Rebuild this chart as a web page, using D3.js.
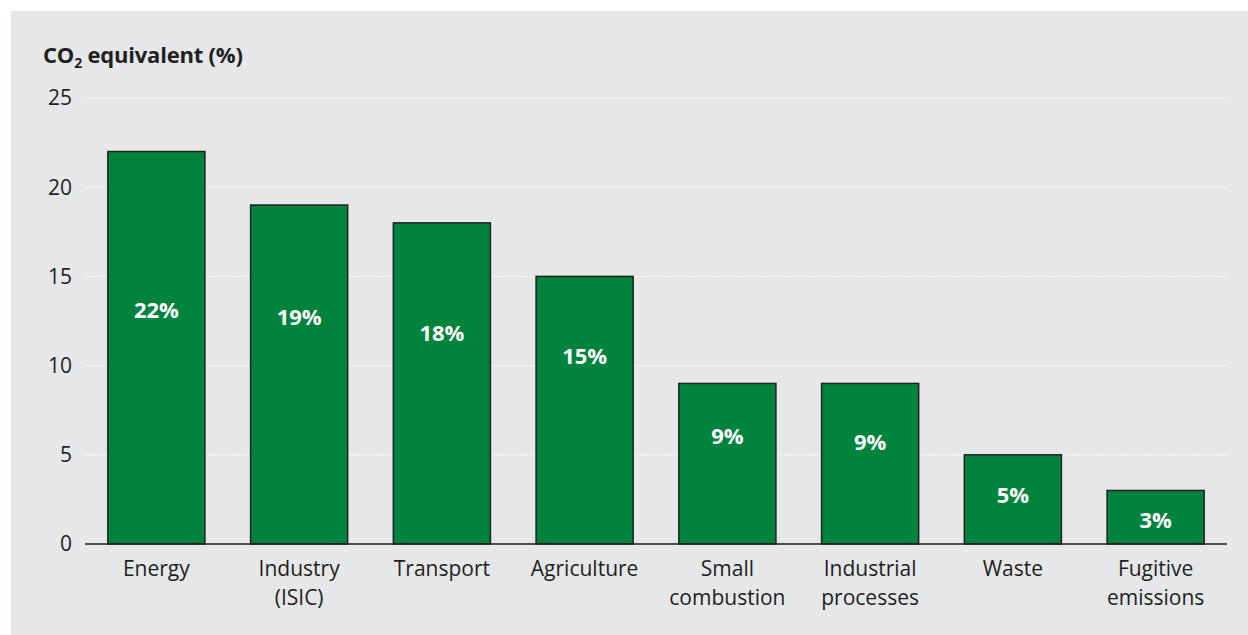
<!DOCTYPE html>
<html>

<head>
    <meta charset="utf-8">
    <title>CO2 equivalent by sector</title>
    <script src="https://d3js.org/d3.v7.min.js"></script>
    <style>
        body {
            margin: 0;
            background: #ffffff;
        }

        text {
            font-family: "Open Sans", "Noto Sans", sans-serif;
            fill: #231f20;
        }
    </style>
</head>

<body>
    <svg width="1248" height="635"></svg>

    <script>
        // data
        const categories = [
            ["Energy"],
            ["Industry", "(ISIC)"],
            ["Transport"],
            ["Agriculture"],
            ["Small", "combustion"],
            ["Industrial", "processes"],
            ["Waste"],
            ["Fugitive", "emissions"]
        ];
        const values = [22, 19, 18, 15, 9, 9, 5, 3];
        const yTicks = [0, 5, 10, 15, 20, 25];

        // where each value label sits, in axis units
        const labelLevel = [13.1, 12.7, 11.8, 10.5, 6.05, 5.7, 2.75, 1.35];

        const svg = d3.select("svg");

        // grey panel
        svg.append("rect")
            .attr("x", 11)
            .attr("y", 11)
            .attr("width", 1248 - 11)
            .attr("height", 635 - 11)
            .attr("fill", "#e6e7e8");

        const plotLeft = 85, plotRight = 1227, plotTop = 98, plotBottom = 544;

        const x = d3.scaleBand()
            .domain(d3.range(categories.length))
            .range([plotLeft, plotRight])
            .paddingInner(0.32)
            .paddingOuter(0.16);

        const y = d3.scaleLinear()
            .domain([0, 25])
            .range([plotBottom, plotTop]);

        // gridlines
        svg.append("g")
            .selectAll("line")
            .data(yTicks.filter(d => d > 0))
            .join("line")
            .attr("x1", plotLeft)
            .attr("x2", plotRight)
            .attr("y1", d => y(d))
            .attr("y2", d => y(d))
            .attr("stroke", "#ffffff")
            .attr("stroke-width", 1)
            .attr("stroke-dasharray", "2,1");

        // y tick labels
        svg.append("g")
            .selectAll("text")
            .data(yTicks)
            .join("text")
            .attr("x", 72)
            .attr("y", d => y(d))
            .attr("dy", "0.35em")
            .attr("text-anchor", "end")
            .attr("font-size", 21)
            .text(d => d);

        // axis title
        const title = svg.append("text")
            .attr("x", 43)
            .attr("y", 63)
            .attr("font-size", 22)
            .attr("font-weight", "bold")
            .attr("letter-spacing", "-0.2");
        title.append("tspan").text("CO");
        title.append("tspan").attr("font-size", 14).attr("dy", 5).text("2");
        title.append("tspan").attr("dy", -5).text(" equivalent (%)");

        // bars
        svg.append("g")
            .selectAll("rect")
            .data(values)
            .join("rect")
            .attr("x", (d, i) => x(i))
            .attr("y", d => y(d))
            .attr("width", x.bandwidth())
            .attr("height", d => y(0) - y(d))
            .attr("fill", "#00843d")
            .attr("stroke", "#231f20")
            .attr("stroke-width", 1.5);

        // value labels
        svg.append("g")
            .selectAll("text")
            .data(values)
            .join("text")
            .attr("x", (d, i) => x(i) + x.bandwidth() / 2)
            .attr("y", (d, i) => y(labelLevel[i]))
            .attr("dy", "0.35em")
            .attr("text-anchor", "middle")
            .attr("font-size", 22)
            .attr("font-weight", "bold")
            .style("fill", "#ffffff")
            .text(d => d + "%");

        // baseline
        svg.append("line")
            .attr("x1", plotLeft)
            .attr("x2", plotRight)
            .attr("y1", y(0))
            .attr("y2", y(0))
            .attr("stroke", "#231f20")
            .attr("stroke-width", 1.5);

        // category labels
        const cat = svg.append("g")
            .selectAll("text")
            .data(categories)
            .join("text")
            .attr("x", (d, i) => x(i) + x.bandwidth() / 2)
            .attr("y", 576)
            .attr("text-anchor", "middle")
            .attr("font-size", 21);

        cat.selectAll("tspan")
            .data(d => d)
            .join("tspan")
            .attr("x", function () { return this.parentNode.getAttribute("x"); })
            .attr("dy", (d, i) => i === 0 ? 0 : 29)
            .text(d => d);
    </script>
</body>

</html>
